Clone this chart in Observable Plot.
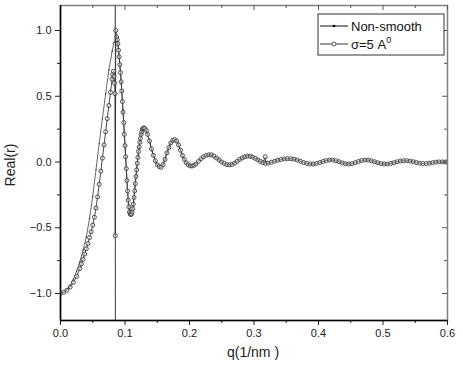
<!DOCTYPE html>
<html><head><meta charset="utf-8">
<script src="https://cdn.jsdelivr.net/npm/d3@7"></script>
<script src="https://cdn.jsdelivr.net/npm/@observablehq/plot@0.6"></script>
<style>
html,body{margin:0;padding:0;background:#fff;}
#chart{position:relative;width:463px;height:365px;}
</style>
</head><body><div id="chart"></div>
<script>
// ---- data ----
const nonSmoothQ = [0, 0.005, 0.010, 0.015, 0.020, 0.025, 0.030, 0.035, 0.040, 0.045, 0.050, 0.055, 0.060, 0.065, 0.070, 0.075, 0.080, 0.083, 0.0849, 0.0850, 0.0851, 0.0853];
const nonSmoothR = [-1.0, -0.99, -0.97, -0.94, -0.89, -0.83, -0.76, -0.67, -0.57, -0.43, -0.26, -0.06, 0.14, 0.33, 0.52, 0.70, 0.84, 0.91, 0.93, 1.35, -1.35, 0.94];

const sigmaQ = [0, 0.005, 0.010, 0.015, 0.020, 0.025, 0.030, 0.0325, 0.035, 0.0375, 0.040, 0.0425, 0.045, 0.0475, 0.050, 0.0525, 0.055, 0.0575, 0.060, 0.0625, 0.065, 0.0675, 0.070, 0.0725, 0.075, 0.0775, 0.080, 0.081, 0.082, 0.083, 0.0838, 0.0845, 0.0850, 0.0856];
const sigmaR = [-1.0, -0.99, -0.975, -0.95, -0.915, -0.87, -0.81, -0.775, -0.74, -0.70, -0.66, -0.62, -0.575, -0.53, -0.48, -0.42, -0.35, -0.265, -0.17, -0.07, 0.03, 0.13, 0.23, 0.33, 0.43, 0.53, 0.63, 0.665, 0.69, 0.65, 0.60, 0.52, -0.56, 1.0];
const sigmaGlitchQ = [0.3175];
const sigmaGlitchR = [0.04];

// shared oscillating tail (both series coincide here)
const tailQ = [0.087, 0.088, 0.089, 0.090, 0.091, 0.092, 0.093, 0.094, 0.095, 0.096, 0.097, 0.098, 0.099, 0.100, 0.101, 0.102, 0.103, 0.104, 0.105, 0.106, 0.107, 0.108, 0.109, 0.110, 0.111, 0.112, 0.113, 0.114, 0.115, 0.116, 0.117, 0.118, 0.119, 0.120, 0.121, 0.122, 0.123, 0.124, 0.125, 0.126, 0.127, 0.128, 0.129, 0.131, 0.133, 0.135, 0.138, 0.141, 0.144, 0.147, 0.150, 0.153, 0.156, 0.159, 0.162, 0.165, 0.168, 0.171, 0.174, 0.177, 0.180, 0.183, 0.186, 0.189, 0.192, 0.195, 0.198, 0.201, 0.204, 0.207, 0.210, 0.214, 0.218, 0.222, 0.226, 0.230, 0.234, 0.238, 0.242, 0.246, 0.250, 0.254, 0.258, 0.262, 0.266, 0.270, 0.274, 0.278, 0.282, 0.286, 0.290, 0.294, 0.298, 0.302, 0.306, 0.310, 0.314, 0.318, 0.322, 0.327, 0.332, 0.337, 0.342, 0.347, 0.352, 0.357, 0.362, 0.367, 0.372, 0.377, 0.382, 0.387, 0.392, 0.397, 0.402, 0.407, 0.412, 0.417, 0.422, 0.427, 0.432, 0.437, 0.442, 0.447, 0.452, 0.457, 0.462, 0.467, 0.472, 0.477, 0.482, 0.487, 0.492, 0.497, 0.502, 0.507, 0.512, 0.517, 0.522, 0.527, 0.532, 0.537, 0.542, 0.547, 0.552, 0.557, 0.562, 0.567, 0.572, 0.577, 0.582, 0.587, 0.592, 0.597, 0.600];
const tailR = [0.95, 0.93, 0.90, 0.85, 0.80, 0.74, 0.68, 0.61, 0.54, 0.46, 0.38, 0.30, 0.21, 0.125, 0.04, -0.05, -0.14, -0.22, -0.29, -0.34, -0.38, -0.395, -0.40, -0.395, -0.38, -0.355, -0.32, -0.27, -0.22, -0.165, -0.11, -0.06, -0.01, 0.035, 0.08, 0.115, 0.15, 0.18, 0.21, 0.23, 0.25, 0.255, 0.26, 0.255, 0.24, 0.21, 0.16, 0.10, 0.05, 0.01, -0.02, -0.035, -0.04, -0.02, 0.02, 0.07, 0.11, 0.145, 0.165, 0.17, 0.16, 0.13, 0.09, 0.05, 0.02, -0.005, -0.02, -0.03, -0.03, -0.025, -0.015, 0.005, 0.025, 0.04, 0.05, 0.055, 0.055, 0.045, 0.03, 0.015, 0.0, -0.012, -0.02, -0.022, -0.018, -0.008, 0.005, 0.02, 0.032, 0.04, 0.045, 0.044, 0.038, 0.028, 0.016, 0.005, -0.005, -0.01, -0.008, -0.002, 0.006, 0.013, 0.019, 0.023, 0.025, 0.025, 0.022, 0.015, 0.006, -0.004, -0.011, -0.015, -0.015, -0.011, -0.004, 0.004, 0.011, 0.015, 0.015, 0.01, 0.002, -0.007, -0.013, -0.015, -0.012, -0.005, 0.004, 0.011, 0.015, 0.014, 0.009, 0.002, -0.006, -0.012, -0.015, -0.015, -0.011, -0.005, 0.002, 0.007, 0.01, 0.01, 0.007, 0.002, -0.004, -0.009, -0.012, -0.012, -0.009, -0.005, -0.001, 0.001, 0.001, 0.0, 0.0];

const xMajor = [0, 0.1, 0.2, 0.3, 0.4, 0.5, 0.6];
const xMinor = [0.05, 0.15, 0.25, 0.35, 0.45, 0.55];
const yMajor = [-1.0, -0.5, 0.0, 0.5, 1.0];
const yMinor = [-0.75, -0.25, 0.25, 0.75];
const xTitle = "q(1/nm )";
const yTitle = "Real(r)";
const seriesNames = ["Non-smooth", "σ=5 A"];

// ---- build tables ----
const nonSmooth = nonSmoothQ.map((q, i) => ({q, r: nonSmoothR[i]}))
  .concat(tailQ.map((q, i) => ({q, r: tailR[i]})));
const sigma = sigmaQ.map((q, i) => ({q, r: sigmaR[i]}))
  .concat(tailQ.map((q, i) => ({q, r: tailR[i]})))
  .concat(sigmaGlitchQ.map((q, i) => ({q, r: sigmaGlitchR[i]})))
  .sort((a, b) => a.q - b.q);

const W = 463, H = 365, ML = 60, MR = 16, MT = 5, MB = 45;
const frameW = W - ML - MR, frameH = H - MT - MB;
const font = "'Liberation Sans', Arial, sans-serif";
const fmt = d3.format(".1f");
const blank = () => "";

const chart = Plot.plot({
  width: W, height: H,
  marginLeft: ML, marginRight: MR, marginTop: MT, marginBottom: MB,
  style: {fontFamily: font, fontSize: "11px", color: "#222", background: "#fff"},
  x: {domain: [0, 0.6]},
  y: {domain: [-1.205, 1.19]},
  marks: [
    Plot.frame({stroke: "#808080", strokeWidth: 1.5}),
    Plot.line(nonSmooth, {x: "q", y: "r", stroke: "#555", strokeWidth: 0.9, clip: true}),
    Plot.dot(nonSmooth, {x: "q", y: "r", r: 0.7, fill: "#333", stroke: null, clip: true}),
    Plot.line(sigma, {x: "q", y: "r", stroke: "#333", strokeWidth: 0.9, clip: true}),
    Plot.dot(sigma, {x: "q", y: "r", r: 2, fill: "#fff", fillOpacity: 0.45, stroke: "#3c3c3c", strokeWidth: 0.9, clip: true}),
    // outward ticks (bottom, left)
    Plot.axisX({anchor: "bottom", ticks: xMajor, tickSize: 5, tickPadding: 4, tickFormat: fmt, label: null, fontSize: 11}),
    Plot.axisX({anchor: "bottom", ticks: xMinor, tickSize: 3, tickFormat: blank, label: null}),
    Plot.axisY({anchor: "left", ticks: yMajor, tickSize: 5, tickPadding: 4, tickFormat: fmt, label: null, fontSize: 11}),
    Plot.axisY({anchor: "left", ticks: yMinor, tickSize: 3, tickFormat: blank, label: null}),
    // inward ticks (top, right)
    Plot.tickX(xMajor, {x: d => d, insetBottom: frameH - 5, stroke: "#555"}),
    Plot.tickX(xMinor, {x: d => d, insetBottom: frameH - 3, stroke: "#555"}),
    Plot.tickY(yMajor, {y: d => d, insetLeft: frameW - 5, stroke: "#555"}),
    Plot.tickY(yMinor, {y: d => d, insetLeft: frameW - 3, stroke: "#555"}),
    Plot.ruleY([-1.205], {stroke: "#000", strokeWidth: 1.5}),
    Plot.ruleX([0], {stroke: "#000", strokeWidth: 1.5})
  ]
});

document.getElementById("chart").appendChild(chart);

// ---- titles & legend ----
const svg = d3.select(chart);
svg.append("text").attr("x", 253).attr("y", 357).attr("text-anchor", "middle")
  .attr("font-family", font).attr("font-size", 14).attr("fill", "#222").text(xTitle);
svg.append("text").attr("transform", "translate(15,165) rotate(-90)").attr("text-anchor", "middle")
  .attr("font-family", font).attr("font-size", 14).attr("fill", "#222").text(yTitle);

const lg = svg.append("g").attr("font-family", font).attr("font-size", 13).attr("fill", "#111").attr("text-anchor", "start");
lg.append("rect").attr("x", 318).attr("y", 14).attr("width", 126).attr("height", 41)
  .attr("fill", "#fff").attr("stroke", "#333").attr("stroke-width", 1);
lg.append("line").attr("x1", 320).attr("x2", 348).attr("y1", 26).attr("y2", 26).attr("stroke", "#111");
lg.append("circle").attr("cx", 334).attr("cy", 26).attr("r", 1.3).attr("fill", "#000");
lg.append("text").attr("x", 351).attr("y", 31).attr("text-anchor", "start").text(seriesNames[0]);
lg.append("line").attr("x1", 320).attr("x2", 348).attr("y1", 44).attr("y2", 44).attr("stroke", "#333");
lg.append("circle").attr("cx", 334).attr("cy", 44).attr("r", 2).attr("fill", "#fff").attr("stroke", "#555");
const t2 = lg.append("text").attr("x", 351).attr("y", 49).attr("text-anchor", "start");
t2.append("tspan").text(seriesNames[1]);
t2.append("tspan").attr("dy", -6).attr("font-size", 9).text("0");
</script>
</body></html>
